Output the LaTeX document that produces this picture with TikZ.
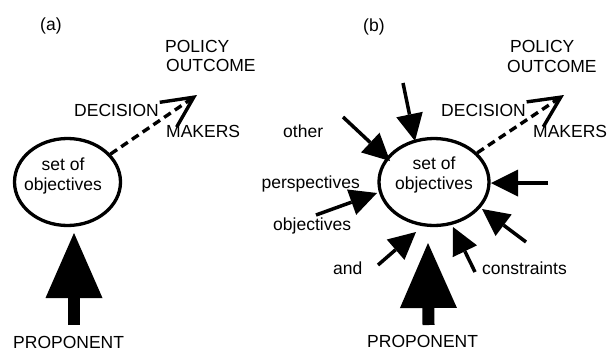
\documentclass[tikz,border=0pt]{standalone}
\usepackage{fontspec}
\setmainfont{Liberation Sans}
\usetikzlibrary{arrows.meta,shapes.geometric}
\begin{document}
\begin{tikzpicture}[x=1pt,y=-1pt,
  txt/.style={inner sep=0pt, font=\fontsize{17.5}{20}\selectfont},
  ell/.style={ellipse, draw, line width=3.3pt, inner sep=0pt},
  arr/.style={line width=3.5pt, -{Triangle[length=27pt,width=27pt,line width=0pt]}},
  bigarr/.style={line width=12pt, -{Triangle[length=65pt,width=57pt,line width=0pt]}},
  dasharr/.style={line width=3.4pt, dash pattern=on 8pt off 5pt,
    -{Straight Barb[length=31pt,width=30pt]}}]
\fill[white] (0,0) rectangle (610,351);
\useasboundingbox (0,0) rectangle (610,351);

% ---- panel (a): a single proponent ----
\node[txt, anchor=base west] (la) at (40,30.5) {(a)};
\node[txt, anchor=base west] (pa1) at (165,52) {POLICY};
\node[txt, anchor=base west] (pa2) at (166,71.5) {OUTCOME};
\node[txt, anchor=base west] (da) at (74,116.5) {DECISION};
\node[txt, anchor=base west] (ma) at (166,137.5) {MAKERS};
\node[ell, minimum width=106pt, minimum height=87pt] (ea) at (67.5,182) {};
\node[txt, align=center, anchor=base] (oa) at (63,190) {set of\\objectives};
\node[txt, anchor=base west] (pra) at (13,348) {PROPONENT};

\coordinate (ta) at (197,95);
\draw[dasharr] (ea.33) -- (ta);
\coordinate (ba0) at (74,325);
\coordinate (ba1) at (74,233);
\draw[bigarr] (ba0) -- (ba1);

% ---- panel (b): many perspectives ----
\node[txt, anchor=base west] (lb) at (363,31) {(b)};
\node[txt, anchor=base west] (pb1) at (510,52) {POLICY};
\node[txt, anchor=base west] (pb2) at (507,72.5) {OUTCOME};
\node[txt, anchor=base west] (db) at (441,116) {DECISION};
\node[txt, anchor=base west] (mb) at (533,137) {MAKERS};
\node[ell, minimum width=110pt, minimum height=87pt] (eb) at (434,182) {};
\node[txt, align=center, anchor=base] (ob) at (434,189.5) {set of\\objectives};
\node[txt, anchor=base west] (prb) at (367,347) {PROPONENT};

\node[txt, anchor=base west] (w1) at (283,137) {other};
\node[txt, anchor=base east] (w2) at (360,188) {perspectives};
\node[txt, anchor=base west] (w3) at (273,230) {objectives};
\node[txt, anchor=base west] (w4) at (333,274) {and};
\node[txt, anchor=base west] (w5) at (482,274) {constraints};

\coordinate (tb) at (564,95);
\draw[dasharr] (eb.34) -- (tb);
\coordinate (bb0) at (428.5,325);
\coordinate (bb1) at (428,243);
\draw[bigarr] (bb0) -- (bb1);

% incoming influences
\coordinate (s1) at (403,83);   \coordinate (t1) at (415,141);
\coordinate (s2) at (343,117);  \coordinate (t2) at (390,161);
\coordinate (s3) at (316,215);  \coordinate (t3) at (377,193);
\coordinate (s4) at (378,265);  \coordinate (t4) at (416,232);
\coordinate (s5) at (475,272);  \coordinate (t5) at (453,227);
\coordinate (s6) at (526,242);  \coordinate (t6) at (482,209);
\coordinate (s7) at (548,183);  \coordinate (t7) at (491,183);
\foreach \i in {1,...,7} \draw[arr] (s\i) -- (t\i);
\end{tikzpicture}
\end{document}
